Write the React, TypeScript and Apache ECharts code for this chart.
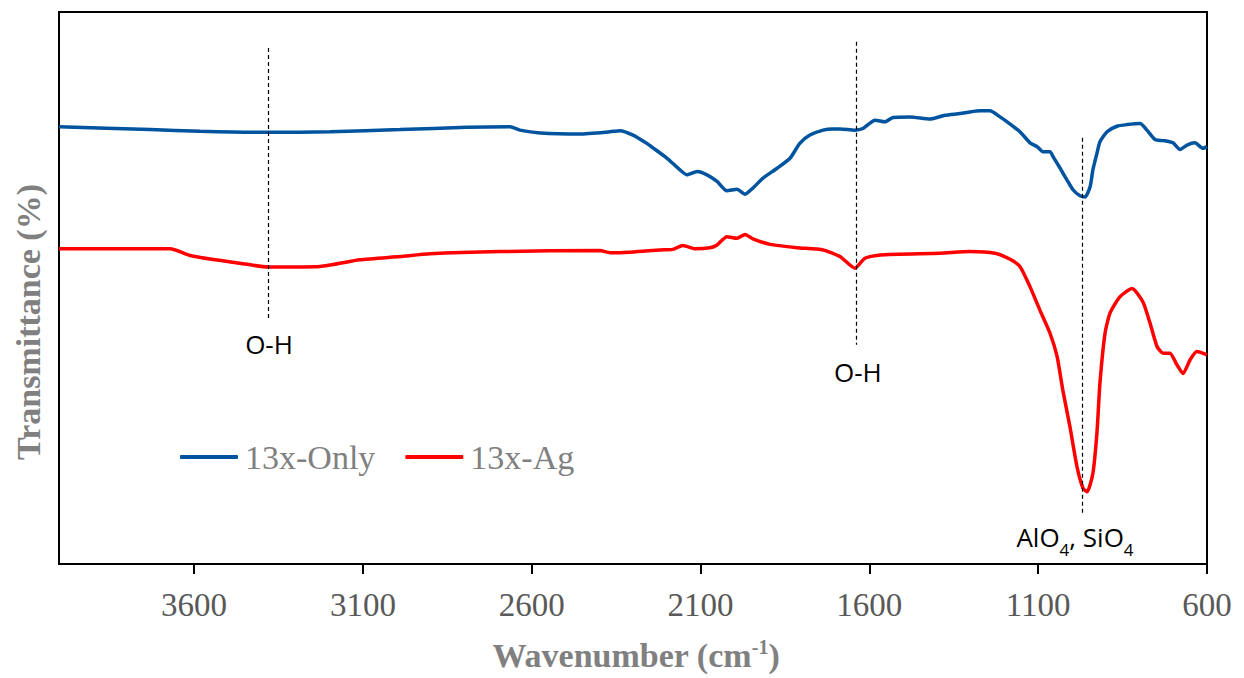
import React, { useEffect, useRef } from "react";
import * as echarts from "echarts";

// Wavenumber (cm-1), transmittance (arbitrary %)
const only13x: [number, number][] = [
  [4000, 79.2], [3730, 78.7], [3582, 78.4], [3381, 78.2], [3197, 78.3], [2990, 78.7], [2792, 79.1],
  [2664, 79.2], [2635, 78.6], [2575, 78.1], [2457, 77.9], [2368, 78.3], [2339, 78.5], [2300, 77.7],
  [2259, 76.2], [2241, 75.4], [2199, 73.5], [2161, 71.4], [2140, 70.5], [2110, 71.1], [2081, 70.5],
  [2051, 69.3], [2022, 67.6], [1992, 67.9], [1968, 67.0], [1945, 68.1], [1915, 69.9], [1873, 71.7],
  [1835, 73.5], [1806, 76.2], [1776, 77.7], [1737, 78.6], [1708, 78.8], [1687, 78.8], [1643, 78.6],
  [1619, 78.9], [1583, 80.4], [1554, 80.1], [1530, 80.9], [1480, 81.0], [1420, 80.6], [1376, 81.3],
  [1331, 81.6], [1302, 81.9], [1272, 82.1], [1243, 82.1], [1213, 81.0], [1183, 79.7], [1154, 78.3],
  [1124, 76.3], [1103, 75.6], [1086, 74.7], [1065, 74.7], [1056, 73.8], [1035, 71.7], [1015, 69.6],
  [997, 67.8], [976, 66.7], [961, 66.5], [946, 68.4], [938, 71.4], [926, 74.4], [917, 76.5],
  [896, 78.3], [867, 79.3], [837, 79.6], [798, 79.8], [778, 78.6], [754, 76.9], [730, 76.7],
  [701, 76.3], [680, 75.1], [659, 75.9], [636, 76.3], [612, 75.3], [600, 75.6],
];

const ag13x: [number, number][] = [
  [4000, 57.1], [3671, 57.1], [3612, 55.9], [3538, 55.1], [3464, 54.5], [3381, 53.8], [3227, 53.9],
  [3109, 55.1], [2990, 55.7], [2901, 56.2], [2694, 56.6], [2398, 56.8], [2368, 56.4], [2339, 56.4],
  [2220, 56.9], [2182, 57.0], [2152, 57.7], [2116, 57.1], [2072, 57.3], [2051, 57.8], [2022, 59.3],
  [1992, 59.0], [1968, 59.7], [1945, 58.9], [1894, 57.9], [1814, 57.3], [1737, 56.9], [1687, 55.7],
  [1643, 53.6], [1613, 55.4], [1568, 56.0], [1391, 56.3], [1302, 56.6], [1228, 56.3], [1183, 55.2],
  [1154, 53.9], [1124, 50.2], [1095, 46.0], [1065, 41.8], [1044, 37.6], [1027, 31.5], [1006, 24.9],
  [985, 17.6], [967, 13.7], [955, 13.1], [938, 16.4], [926, 23.7], [917, 32.8], [902, 41.8],
  [887, 45.5], [858, 48.4], [822, 49.9], [790, 47.5], [769, 43.7], [748, 39.4], [730, 38.2],
  [710, 38.2], [689, 36.1], [671, 34.5], [650, 37.0], [630, 38.5], [600, 37.9],
];

const xTicks = [3600, 3100, 2600, 2100, 1600, 1100, 600];

// Annotation guide lines: [wavenumber, top T, bottom T]
const guideLines: [number, number, number][] = [
  [3381, 93.5, 44.4],
  [1640, 94.6, 39.7],
  [970, 77.2, 9.2],
];

// Annotation labels: [wavenumber, T, text]
const annotations: [number, number, string][] = [
  [3378, 39.9, "O-H"],
  [1634, 34.8, "O-H"],
  [991, 4.9, "{a|AlO}{s|4}{a|, SiO}{s|4}"],
];

const seriesNames = ["13x-Only", "13x-Ag"];
const seriesColors = ["#00539F", "#FF0000"];

export default function App() {
  const ref = useRef<HTMLDivElement>(null);

  useEffect(() => {
    if (!ref.current) return;
    const chart = echarts.init(ref.current, undefined, { renderer: "svg" });
    const serif = "'Liberation Serif', 'Times New Roman', serif";
    const sans = "'Open Sans', 'Noto Sans', sans-serif";

    chart.setOption({
      animation: false,
      backgroundColor: "#ffffff",
      grid: {
        left: 59,
        right: 37,
        top: 12,
        bottom: 114,
        show: true,
        borderColor: "#000",
        borderWidth: 2,
        backgroundColor: "transparent",
      },
      legend: {
        left: 180,
        top: 440,
        padding: 0,
        icon: "roundRect",
        itemWidth: 58,
        itemHeight: 4,
        itemGap: 30,
        textStyle: { fontFamily: serif, fontSize: 34, color: "#808080", padding: [0, 0, 0, 2] },
        data: seriesNames,
      },
      xAxis: {
        type: "value",
        min: 600,
        max: 4000,
        inverse: true,
        axisLine: { show: true, lineStyle: { color: "#000", width: 2 } },
        axisTick: {
          show: true,
          length: 10,
          lineStyle: { color: "#000", width: 2 },
          customValues: xTicks,
        },
        axisLabel: {
          show: true,
          margin: 24,
          color: "#595959",
          fontFamily: serif,
          fontSize: 33,
          customValues: xTicks,
          formatter: (v: number) => String(v),
        },
        splitLine: { show: false },
      },
      yAxis: {
        type: "value",
        min: 0,
        max: 100,
        axisLine: { show: false },
        axisTick: { show: false },
        axisLabel: { show: false },
        splitLine: { show: false },
      },
      series: [
        {
          name: seriesNames[0],
          type: "line",
          data: only13x,
          symbol: "none",
          smooth: 0.2,
          lineStyle: { color: seriesColors[0], width: 3.5 },
          itemStyle: { color: seriesColors[0] },
          z: 3,
          markLine: {
            silent: true,
            symbol: ["none", "none"],
            label: { show: false },
            lineStyle: { color: "#000", type: [4, 3], width: 1.2 },
            data: guideLines.map(([w, t1, t2]) => [
              { coord: [w, t1] },
              { coord: [w, t2] },
            ]),
          },
        },
        {
          name: seriesNames[1],
          type: "line",
          data: ag13x,
          symbol: "none",
          smooth: 0.2,
          lineStyle: { color: seriesColors[1], width: 3.5 },
          itemStyle: { color: seriesColors[1] },
          z: 3,
          markPoint: {
            silent: true,
            symbol: "rect",
            symbolSize: 1,
            itemStyle: { color: "rgba(0,0,0,0)" },
            label: {
              show: true,
              position: "inside",
              color: "#000",
              fontFamily: sans,
              fontSize: 26,
              rich: {
                a: { fontFamily: sans, fontSize: 26, color: "#000", lineHeight: 34, verticalAlign: "middle" },
                s: { fontFamily: sans, fontSize: 17, color: "#000", lineHeight: 34, verticalAlign: "bottom", padding: [0, 0, -4, 0] },
              },
            },
            data: annotations.map(([w, t, txt]) => ({
              coord: [w, t],
              label: { formatter: txt },
            })),
          },
        },
      ],
      graphic: [
        {
          type: "text",
          x: 636,
          y: 655,
          style: {
            text: "{t|Wavenumber (cm}{s|-1}{t|)}",
            align: "center",
            verticalAlign: "middle",
            rich: {
              t: { fontFamily: serif, fontWeight: "bold", fontSize: 34, fill: "#808080", lineHeight: 40, verticalAlign: "middle" },
              s: { fontFamily: serif, fontWeight: "bold", fontSize: 20, fill: "#808080", lineHeight: 40, verticalAlign: "top", padding: [2, 0, 0, 0] },
            },
          },
        },
        {
          type: "text",
          x: 28,
          y: 322,
          rotation: Math.PI / 2,
          style: {
            text: "Transmittance (%)",
            align: "center",
            verticalAlign: "middle",
            fontFamily: serif,
            fontWeight: "bold",
            fontSize: 34,
            fill: "#808080",
          },
        },
      ],
    });

    return () => chart.dispose();
  }, []);

  return (
    <div
      ref={ref}
      style={{ position: "fixed", left: 0, top: 0, width: 1244, height: 678 }}
    />
  );
}
